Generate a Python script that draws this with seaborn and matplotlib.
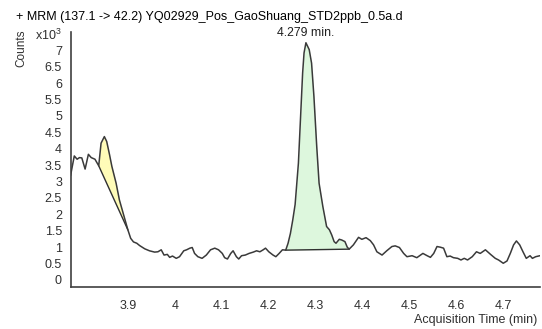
import matplotlib
matplotlib.use("Agg")
import matplotlib.pyplot as plt
import numpy as np
import pandas as pd
import seaborn as sns

sns.set_theme(style="white")
plt.rcParams["font.family"] = ["Liberation Sans", "DejaVu Sans"]
plt.rcParams["mathtext.fontset"] = "custom"
plt.rcParams["mathtext.rm"] = "Liberation Sans"
plt.rcParams["mathtext.it"] = "Liberation Sans"

# Chromatogram trace: acquisition time (min) and counts (x10^3)
time_min = [
    3.778, 3.786, 3.792, 3.797, 3.802, 3.809, 3.816, 3.822, 3.830, 3.838,
    3.843, 3.850, 3.855, 3.861, 3.866, 3.875, 3.882, 3.889, 3.895, 3.900,
    3.906, 3.912, 3.919, 3.925, 3.936, 3.946, 3.957, 3.964, 3.971, 3.977,
    3.984, 3.989, 3.995, 4.003, 4.010, 4.019, 4.025, 4.032, 4.037, 4.042,
    4.049, 4.058, 4.067, 4.076, 4.085, 4.093, 4.101, 4.106, 4.112, 4.119,
    4.124, 4.131, 4.136, 4.142, 4.150, 4.158, 4.167, 4.174, 4.181, 4.188,
    4.193, 4.200, 4.209, 4.215, 4.222, 4.229, 4.236, 4.241, 4.246, 4.251,
    4.256, 4.263, 4.268, 4.272, 4.275, 4.279, 4.286, 4.291, 4.296, 4.302,
    4.307, 4.315, 4.323, 4.329, 4.334, 4.339, 4.343, 4.350, 4.355, 4.362,
    4.367, 4.371, 4.380, 4.391, 4.398, 4.407, 4.416, 4.423, 4.430, 4.441,
    4.451, 4.462, 4.469, 4.478, 4.487, 4.494, 4.505, 4.515, 4.528, 4.537,
    4.544, 4.551, 4.558, 4.565, 4.572, 4.579, 4.586, 4.593, 4.602, 4.609,
    4.616, 4.623, 4.633, 4.642, 4.650, 4.661, 4.672, 4.682, 4.689, 4.699,
    4.707, 4.714, 4.721, 4.727, 4.734, 4.741, 4.748, 4.756, 4.761, 4.768,
    4.777,
]
counts_k = [
    3.18, 3.78, 3.68, 3.73, 3.72, 3.38, 3.83, 3.73, 3.68, 3.48,
    4.17, 4.37, 4.22, 3.82, 3.46, 2.95, 2.44, 2.09, 1.78, 1.53,
    1.27, 1.16, 1.12, 1.05, 0.95, 0.89, 0.85, 0.86, 0.92, 0.76,
    0.78, 0.69, 0.73, 0.66, 0.71, 0.89, 0.92, 0.97, 0.99, 0.81,
    0.71, 0.66, 0.76, 0.92, 0.97, 0.92, 0.81, 0.68, 0.64, 0.81,
    0.89, 0.71, 0.64, 0.74, 0.76, 0.81, 0.85, 0.89, 0.86, 0.92,
    0.97, 0.86, 0.76, 0.71, 0.81, 0.92, 0.91, 1.12, 1.42, 1.83,
    2.30, 3.56, 5.09, 6.31, 6.92, 7.23, 7.02, 6.61, 5.60, 4.07,
    2.95, 2.24, 1.63, 1.53, 1.37, 1.17, 1.12, 1.24, 1.22, 1.17,
    1.00, 0.94, 1.07, 1.30, 1.24, 1.29, 1.20, 1.07, 0.86, 0.76,
    0.89, 1.02, 1.04, 0.99, 0.81, 0.71, 0.74, 0.68, 0.81, 0.74,
    0.69, 0.81, 1.02, 1.00, 0.97, 0.71, 0.73, 0.68, 0.66, 0.61,
    0.66, 0.61, 0.71, 0.86, 0.81, 0.92, 0.78, 0.66, 0.61, 0.51,
    0.58, 0.81, 1.07, 1.19, 1.07, 0.86, 0.66, 0.74, 0.66, 0.71,
    0.74,
]

# Integrated peaks: start / end times
peak1_start, peak1_end = 3.838, 3.900
peak2_start, peak2_end = 4.236, 4.371
apex_time = 4.279
apex_label = "4.279 min."

title = "+ MRM (137.1 -> 42.2) YQ02929_Pos_GaoShuang_STD2ppb_0.5a.d"
x_ticks = [3.8, 3.9, 4.0, 4.1, 4.2, 4.3, 4.4, 4.5, 4.6, 4.7]
x_tick_labels = ["", "3.9", "4", "4.1", "4.2", "4.3", "4.4", "4.5", "4.6", "4.7"]
y_ticks = [0, 0.5, 1, 1.5, 2, 2.5, 3, 3.5, 4, 4.5, 5, 5.5, 6, 6.5, 7, 7.5]
y_tick_labels = ["0", "0.5", "1", "1.5", "2", "2.5", "3", "3.5", "4", "4.5",
                 "5", "5.5", "6", "6.5", "7", r"x10$^{3}$"]

df = pd.DataFrame({"time": time_min, "counts": counts_k})

fig = plt.figure(figsize=(5.42, 3.29), dpi=100)
ax = fig.add_axes([0.131, 0.127, 0.866, 0.776])

t = np.array(time_min)
c = np.array(counts_k)


def shade_peak(t0, t1, color):
    m = (t >= t0 - 1e-9) & (t <= t1 + 1e-9)
    tt, cc = t[m], c[m]
    base = np.interp(tt, [tt[0], tt[-1]], [cc[0], cc[-1]])
    ax.fill_between(tt, base, cc, color=color, lw=0, zorder=1)
    ax.plot([tt[0], tt[-1]], [cc[0], cc[-1]], color="#303030", lw=1.0, zorder=2)


shade_peak(peak1_start, peak1_end, "#fffcb8")
shade_peak(peak2_start, peak2_end, "#ddf7dd")

sns.lineplot(data=df, x="time", y="counts", sort=False, estimator=None,
             color="#3a3a3a", lw=1.1, ax=ax, zorder=3)

ax.annotate(apex_label, xy=(apex_time, max(counts_k)), xytext=(0, 3),
            textcoords="offset points", ha="center", va="bottom",
            fontsize=8.8, color="#202020")

ax.set_xlim(3.779, 4.778)
ax.set_ylim(-0.22, 7.56)
ax.set_xticks(x_ticks, x_tick_labels)
ax.set_yticks(y_ticks, y_tick_labels)
ax.set_xlabel("")
ax.set_ylabel("")

for side in ("top", "right"):
    ax.spines[side].set_visible(False)
for side in ("left", "bottom"):
    ax.spines[side].set_color("#404040")
    ax.spines[side].set_linewidth(1.2)

ax.tick_params(axis="both", direction="out", length=4.5, width=1,
               colors="#404040", labelcolor="#303030", labelsize=9)
ax.tick_params(axis="x", pad=4.5)
ax.tick_params(axis="y", pad=2)

fig.text(0.029, 0.947, title, fontsize=9, color="black", va="center", ha="left")
fig.text(0.039, 0.91, "Counts", rotation=90, fontsize=8.5, color="#303030",
         va="top", ha="center")
fig.text(0.991, 0.027, "Acquisition Time (min)", fontsize=9, color="#303030",
         va="center", ha="right")

fig.savefig("out.png", dpi=100)
